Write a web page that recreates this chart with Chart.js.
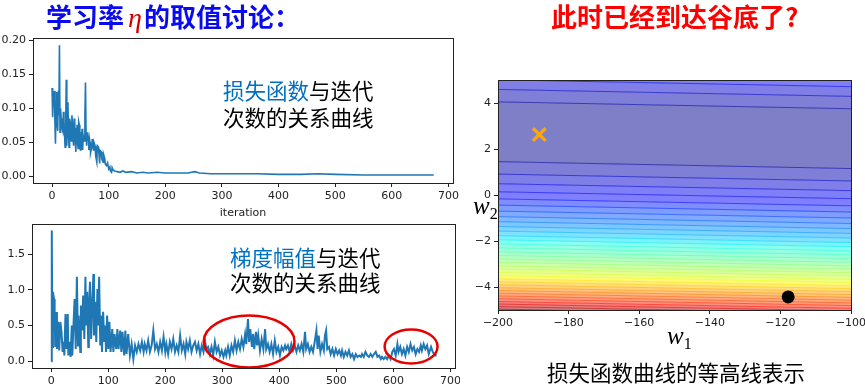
<!DOCTYPE html>
<html lang="zh-CN">
<head>
<meta charset="UTF-8" />
<title>学习率的取值讨论</title>
<script src="https://cdn.jsdelivr.net/npm/chart.js"></script>
<style>
  body { margin:0; width:865px; height:388px; overflow:hidden; background:#fff; position:relative; font-family:"Noto Sans CJK SC", sans-serif; }
  .clip { position:absolute; left:0; top:0; width:460px; height:388px; overflow:hidden; }
  canvas { position:absolute; }
  .txt { position:absolute; white-space:nowrap; }
  .title { font-size:26px; font-weight:700; line-height:30px; }
  .eta { font-family:"Liberation Serif", serif; font-style:italic; font-weight:400; color:#d40000; font-size:28px; margin:0 2px 0 4px; }
  .note { font-size:21.5px; line-height:27px; color:#000; }
  .note b { font-weight:400; color:#0070c0; }
  .math { font-family:"Liberation Serif", serif; font-style:italic; font-size:25px; line-height:1; color:#000; }
  .math sub { font-style:normal; font-size:16px; vertical-align:-5px; }
</style>
</head>
<body>

<div class="clip">
  <canvas id="lossChart" width="495" height="200" style="left:-20px; top:25px;"></canvas>
  <canvas id="gradChart" width="495" height="190" style="left:-20px; top:210px;"></canvas>
</div>
<canvas id="contourChart" width="410" height="300" style="left:460px; top:60px;"></canvas>

<div class="txt title" style="left:46px; top:1px; color:#0a0aee;">学习率<span class="eta">η</span>的取值讨论：</div>
<div class="txt title" style="left:551px; top:1px; color:#ff0000;">此时已经到达谷底了?</div>
<div class="txt note" style="left:223px; top:76px;"><b>损失函数</b>与迭代<br>次数的关系曲线</div>
<div class="txt note" style="left:230px; top:244px; line-height:25px;"><b>梯度幅值</b>与迭代<br>次数的关系曲线</div>
<div class="txt note" style="left:547px; top:358px;">损失函数曲线的等高线表示</div>
<div class="txt math" style="left:667px; top:323px;">w<sub>1</sub></div>
<div class="txt math" style="left:473px; top:193px;">w<sub>2</sub></div>

<script>
  // 损失函数 vs 迭代次数
  const lossIter = [0,1,2,3,4,5,6,7,8,9,10,11,12,13,14,15,16,17,19,20,21,23,24,25,26,27,28,29,30,31,32,33,34,35,36,37,38,39,40,41,42,43,44,45,46,47,48,49,50,51,52,53,54,55,57,58,59,60,61,62,63,64,65,66,67,68,70,71,73,74,76,77,79,80,82,83,84,85,87,88,90,91,93,94,96,98,100,102,103,105,106,108,111,
                    115,120,125,130,140,150,160,170,185,200,220,240,252,260,280,300,330,360,400,440,470,500,550,600,640,674];
  const lossVal  = [0.130,0.087,0.116,0.105,0.126,0.080,0.048,0.110,0.124,0.075,0.067,0.126,0.090,0.193,0.065,0.100,0.085,0.072,0.066,0.095,0.080,0.043,0.070,0.142,0.045,0.090,0.109,0.060,0.043,0.085,0.080,0.060,0.052,0.090,0.078,0.055,0.045,0.085,0.078,0.050,0.036,0.070,0.076,0.050,0.041,0.080,0.076,0.045,0.039,0.065,0.052,0.070,0.039,0.060,0.052,0.090,0.138,0.060,0.045,0.065,0.052,0.060,0.039,0.055,0.050,0.035,0.043,0.055,0.039,0.050,0.045,0.030,0.021,0.045,0.043,0.030,0.019,0.038,0.036,0.025,0.021,0.032,0.026,0.018,0.016,0.020,0.011,0.014,0.008,0.006,0.013,0.009,0.008,
                    0.007,0.006,0.008,0.006,0.007,0.005,0.006,0.005,0.006,0.005,0.005,0.005,0.007,0.005,0.004,0.004,0.004,0.004,0.003,0.003,0.004,0.003,0.002,0.002,0.002,0.002];

  // 梯度幅值 vs 迭代次数
  const gradIter = [0,1,2,3,5,6,7,9,10,12,14,16,18,20,22,23,25,27,29,30,32,34,36,37,39,41,43,45,47,48,51,52,54,56,58,60,61,63,65,66,68,70,72,74,75,77,79,81,82,84,86,88,89,91,93,95,96,98,100,
                    102,104,107,109,111,114,116,118,121,123,125,128,130,132,135,138,141,144,147,150,153,156,159,162,164,167,170,173,176,179,182,185,188,191,194,197,200,
                    202,205,208,211,214,217,220,223,226,229,232,235,237,240,243,246,249,252,255,258,261,264,267,270,272,275,278,281,284,287,290,293,296,299,
                    302,305,307,310,313,316,319,322,325,328,331,334,337,340,342,345,347,349,352,354,356,359,361,363,366,369,372,375,377,380,383,386,389,392,395,398,
                    401,404,407,410,412,415,418,421,424,427,430,433,436,439,442,445,447,450,453,456,459,462,465,467,469,472,475,478,480,482,484,487,490,493,496,499,
                    502,505,508,510,513,516,519,522,525,528,531,534,537,540,543,545,548,551,554,557,560,563,566,569,572,575,578,580,583,586,589,592,595,598,
                    601,604,607,609,612,615,618,621,624,627,630,633,636,639,642,645,648,650,653,656,659,662,666,669,673,674];
  const gradVal  = [0.00,1.83,0.20,0.97,0.87,0.69,0.20,0.69,0.17,0.55,0.15,0.55,0.41,0.13,0.27,0.08,0.66,0.17,0.66,0.08,0.27,0.06,0.50,0.08,0.50,0.87,0.17,1.18,0.22,0.64,0.13,0.78,0.43,0.92,0.31,1.18,0.50,0.97,0.20,0.73,1.11,0.31,0.83,1.22,0.36,0.83,0.27,1.01,0.50,1.18,0.22,0.64,0.13,0.69,0.27,0.50,0.13,0.64,0.17,
                    0.55,0.13,0.45,0.13,0.38,0.17,0.45,0.17,0.43,0.13,0.41,0.08,0.43,0.10,0.38,0.08,0.24,0.03,0.22,0.13,0.24,0.15,0.27,0.13,0.24,0.15,0.29,0.13,0.22,0.43,0.17,0.24,0.13,0.27,0.15,0.34,0.13,
                    0.24,0.10,0.27,0.17,0.31,0.13,0.22,0.13,0.36,0.15,0.24,0.10,0.27,0.17,0.29,0.13,0.22,0.27,0.15,0.24,0.10,0.22,0.13,0.27,0.17,0.20,0.10,0.20,0.08,0.27,0.13,0.20,0.08,0.15,
                    0.06,0.15,0.08,0.20,0.08,0.22,0.13,0.29,0.15,0.27,0.17,0.31,0.20,0.38,0.24,0.59,0.27,0.45,0.20,0.38,0.17,0.41,0.22,0.36,0.15,0.31,0.17,0.45,0.17,0.24,0.13,0.24,0.10,0.29,0.13,0.20,
                    0.08,0.20,0.15,0.22,0.17,0.22,0.13,0.24,0.15,0.22,0.13,0.22,0.15,0.24,0.13,0.41,0.17,0.24,0.13,0.20,0.13,0.27,0.43,0.17,0.36,0.13,0.24,0.15,0.36,0.43,0.17,0.20,0.10,0.17,0.08,0.17,
                    0.10,0.15,0.08,0.15,0.06,0.13,0.08,0.15,0.06,0.10,0.03,0.10,0.06,0.08,0.06,0.10,0.06,0.13,0.08,0.06,0.10,0.06,0.10,0.13,0.06,0.08,0.03,0.06,0.03,0.06,0.03,0.08,0.03,0.13,
                    0.17,0.08,0.24,0.13,0.20,0.10,0.17,0.08,0.20,0.13,0.24,0.15,0.20,0.10,0.17,0.13,0.22,0.15,0.24,0.17,0.22,0.10,0.20,0.13,0.08,0.10];

  const iterTicks = [0,100,200,300,400,500,600,700];
  const lossTicks = [0,0.05,0.10,0.15,0.20];
  const gradTicks = [0,0.5,1.0,1.5];

  // 圈出的区域 (迭代次数, 幅值, 半宽, 半高)
  const ringIter = [347, 631];
  const ringVal  = [0.276, 0.206];
  const ringW    = [79.6, 46.4];
  const ringH    = [0.364, 0.238];

  // 等高线: 左端(w1=-200)与右端(w1=-100)的 w2 值, 线的层级, 其上方色带的层级
  const w1Ticks = [-200,-180,-160,-140,-120,-100];
  const w2Ticks = [-4,-2,0,2,4];
  const contourLeft  = [5.01,4.59,4.05,1.45,0.91,0.49,0.14,-0.17,-0.44,-0.70,-0.94,-1.16,-1.37,-1.57,-1.77,-1.95,-2.13,-2.30,-2.47,-2.63,-2.78,-2.93,-3.08,-3.22,-3.37,-3.50,-3.64,-3.77,-3.90,-4.03,-4.15,-4.27,-4.39,-4.51,-4.63,-4.74,-4.85,-4.96,-5.07];
  const contourRight = [4.71,4.29,3.75,1.15,0.61,0.19,-0.16,-0.47,-0.74,-1.00,-1.24,-1.46,-1.67,-1.87,-2.07,-2.25,-2.43,-2.60,-2.77,-2.93,-3.08,-3.23,-3.38,-3.52,-3.67,-3.80,-3.94,-4.07,-4.20,-4.33,-4.45,-4.57,-4.69,-4.81,-4.93,-5.04,-5.15,-5.26,-5.37];
  const contourLevel = [3,2,1,1,2,3,4,5,6,7,8,9,10,11,12,13,14,15,16,17,18,19,20,21,22,23,24,25,26,27,28,29,30,31,32,33,34,35,36];
  const contourBand  = [3,2,1,0,1,2,3,4,5,6,7,8,9,10,11,12,13,14,15,16,17,18,19,20,21,22,23,24,25,26,27,28,29,30,31,32,33,34,35];
  const levelCount = 36;
  const startPoint = {x:-188.3, y:2.63};
  const endPoint   = {x:-117.8, y:-4.43};

  const BLUE = '#1f77b4';
  const tickFont = {family:'DejaVu Sans', size:11};

  // matplotlib 风格的坐标轴
  function axis(min, max, ticks, fmt, size, horizontal) {
    return {
      type: 'linear', min: min, max: max,
      border: {display: false},
      grid: {drawOnChartArea: false, drawTicks: true, tickLength: 4, color: '#222'},
      ticks: {font: tickFont, color: '#222', padding: 3, maxRotation: 0, autoSkip: false, callback: v => fmt(v)},
      afterBuildTicks: s => { s.ticks = ticks.map(v => ({value: v})); },
      afterFit: s => { if (horizontal) s.height = size; else s.width = size; }
    };
  }

  const boxPlugin = {
    id: 'box',
    afterDraw(chart) {
      const a = chart.chartArea, c = chart.ctx;
      c.save();
      c.strokeStyle = '#222';
      c.lineWidth = 1;
      c.strokeRect(Math.round(a.left) + 0.5, Math.round(a.top) + 0.5, Math.round(a.right - a.left), Math.round(a.bottom - a.top));
      c.restore();
    }
  };

  const ringPlugin = {
    id: 'rings',
    afterDatasetsDraw(chart) {
      const x = chart.scales.x, y = chart.scales.y, c = chart.ctx;
      c.save();
      c.strokeStyle = '#e60000';
      c.lineWidth = 2.5;
      ringIter.forEach((it, i) => {
        const cx = x.getPixelForValue(it), cy = y.getPixelForValue(ringVal[i]);
        const rx = x.getPixelForValue(it + ringW[i]) - cx;
        const ry = cy - y.getPixelForValue(ringVal[i] + ringH[i]);
        c.beginPath();
        c.ellipse(cx, cy, rx, ry, 0, 0, Math.PI * 2);
        c.stroke();
      });
      c.restore();
    }
  };

  const toPts = (xs, ys) => xs.map((x, i) => ({x: x, y: ys[i]}));
  const minus = v => String(v).replace('-', '\u2212');

  // 图1: 损失函数
  const lossX = axis(-33.7, 708, iterTicks, v => String(v), 42, true);
  lossX.title = {display: true, text: 'iteration', font: tickFont, color: '#222', padding: {top: 0, bottom: 5}};
  new Chart(document.getElementById('lossChart'), {
    type: 'line',
    data: {datasets: [{data: toPts(lossIter, lossVal), borderColor: BLUE, borderWidth: 1.6, pointRadius: 0, tension: 0}]},
    options: {
      responsive: false, animation: false,
      layout: {padding: {top: 13, right: 22, left: 0, bottom: 0}},
      plugins: {legend: {display: false}, tooltip: {enabled: false}},
      scales: {
        x: lossX,
        y: axis(-0.0097, 0.2035, lossTicks, v => v.toFixed(2), 53, false)
      }
    },
    plugins: [boxPlugin]
  });

  // 图2: 梯度幅值
  new Chart(document.getElementById('gradChart'), {
    type: 'line',
    data: {datasets: [{data: toPts(gradIter, gradVal), borderColor: BLUE, borderWidth: 2, pointRadius: 0, tension: 0}]},
    options: {
      responsive: false, animation: false,
      layout: {padding: {top: 14, right: 20, left: 0, bottom: 0}},
      plugins: {legend: {display: false}, tooltip: {enabled: false}},
      scales: {
        x: axis(-33.7, 708, iterTicks, v => String(v), 32, true),
        y: axis(-0.095, 1.92, gradTicks, v => v.toFixed(1), 52, false)
      }
    },
    plugins: [boxPlugin, ringPlugin]
  });

  // 图3: 等高线 (jet 色图, 半透明)
  function seg(t, pts) {
    for (let i = 1; i < pts.length; i++) {
      if (t <= pts[i][0]) {
        const [x0, y0] = pts[i - 1], [x1, y1] = pts[i];
        return y0 + (y1 - y0) * (t - x0) / (x1 - x0);
      }
    }
    return pts[pts.length - 1][1];
  }
  function jet(t, alpha) {
    const r = seg(t, [[0,0],[0.35,0],[0.66,1],[0.89,1],[1,0.5]]);
    const g = seg(t, [[0,0],[0.125,0],[0.375,1],[0.64,1],[0.91,0],[1,0]]);
    const b = seg(t, [[0,0.5],[0.11,1],[0.34,1],[0.65,0],[1,0]]);
    return `rgba(${Math.round(r*255)},${Math.round(g*255)},${Math.round(b*255)},${alpha})`;
  }

  const contourSets = contourLeft.map((yl, i) => ({
    data: [{x: -200, y: yl}, {x: -100, y: contourRight[i]}],
    borderColor: jet(contourLevel[i] / levelCount, 0.6),
    borderWidth: 1,
    backgroundColor: jet((contourBand[i] + 0.5) / levelCount, 0.5),
    fill: i === 0 ? 'end' : '-1',
    pointRadius: 0, tension: 0, clip: 0
  }));
  // 起点 × 与终点 ●, order 更小 => 画在最上层
  contourSets.push({
    data: [startPoint], showLine: false, fill: false, order: -1,
    pointStyle: 'crossRot', pointRadius: 9, pointBorderWidth: 3.5, pointBorderColor: '#ffa500', pointBackgroundColor: '#ffa500'
  });
  contourSets.push({
    data: [endPoint], showLine: false, fill: false, order: -1,
    pointStyle: 'circle', pointRadius: 6.5, pointBorderWidth: 0, pointBackgroundColor: '#000', pointBorderColor: '#000'
  });

  new Chart(document.getElementById('contourChart'), {
    type: 'line',
    data: {datasets: contourSets},
    options: {
      responsive: false, animation: false,
      layout: {padding: {top: 20, right: 19, left: 0, bottom: 0}},
      plugins: {legend: {display: false}, tooltip: {enabled: false}, filler: {propagate: false}},
      scales: {
        x: axis(-200, -100, w1Ticks, minus, 50, true),
        y: axis(-5, 5, w2Ticks, minus, 38, false)
      }
    },
    plugins: [boxPlugin]
  });
</script>

</body>
</html>
